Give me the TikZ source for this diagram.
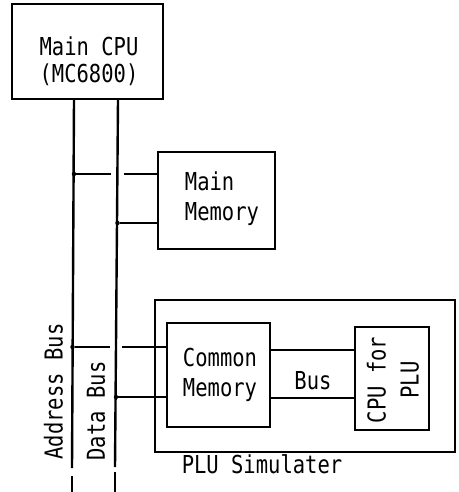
\documentclass[tikz,border=0pt]{standalone}
\usepackage{fontspec}
\setmainfont[FakeStretch=0.83]{DejaVu Sans Mono}
\begin{document}
\begin{tikzpicture}[x=1pt,y=-1pt,
  box/.style={draw,line width=1.4pt,inner sep=0pt},
  lbl/.style={font=\fontsize{24.7}{30}\selectfont,inner sep=0pt},
  busline/.style={line width=2.4pt},
  conn/.style={line width=1.6pt},
  dot/.style={circle,fill,inner sep=0pt,minimum size=4.5pt}]
\useasboundingbox (0,0) rectangle (458,492);
% boxes
\node[box,minimum width=151pt,minimum height=95pt] (cpu) at (87.5,51.5) {};
\node[lbl,align=center,font=\fontsize{24.7}{27}\selectfont] (cputxt) at (89,61) {Main CPU\\(MC6800)};
\node[box,minimum width=117pt,minimum height=97pt] (mm) at (216.5,200.5) {};
\node[lbl,align=left] (mmtxt) at (222,199) {Main\\Memory};
\node[box,minimum width=300pt,minimum height=152pt] (plu) at (305,376) {};
\node[box,minimum width=103pt,minimum height=104pt] (cm) at (218.5,375) {};
\node[lbl,align=left] (cmtxt) at (220,374.5) {Common\\Memory};
\node[box,minimum width=74pt,minimum height=103pt] (cpl) at (392,378.5) {};
\node[lbl,align=center,rotate=90,font=\fontsize{24.7}{33}\selectfont] (cpltxt) at (393,380) {CPU for\\PLU};
\node[lbl] (bustxt) at (313,381) {Bus};
\node[lbl] (plutxt) at (262,464) {PLU Simulater};
\node[lbl,rotate=90] (abtxt) at (53.5,391.5) {Address Bus};
\node[lbl,rotate=90] (dbtxt) at (96,411) {Data Bus};
% bus lines
\coordinate (ab0) at (74,99.5);
\coordinate (ab1) at (72,468);
\coordinate (ab2) at (72,476);
\coordinate (ab3) at (72,492);
\coordinate (db0) at (118,99.5);
\coordinate (db1) at (115,467);
\coordinate (db2) at (115,472);
\coordinate (db3) at (115,492);
\draw[busline] (ab0) -- (ab1);
\draw[busline] (ab2) -- (ab3);
\draw[busline] (db0) -- (db1);
\draw[busline] (db2) -- (db3);
% junctions
\node[dot] (j1) at (74,174) {};
\node[dot] (j2) at (117.5,223) {};
\node[dot] (j3) at (72.5,347) {};
\node[dot] (j4) at (116,397) {};
\coordinate (g1a) at (111,174);
\coordinate (g1b) at (124,174);
\coordinate (g3a) at (110,347);
\coordinate (g3b) at (122,347);
\draw[conn] (j1) -- (g1a);
\draw[conn] (g1b) -- (mm.west |- g1b);
\draw[conn] (j2) -- (mm.west |- j2);
\draw[conn] (j3) -- (g3a);
\draw[conn] (g3b) -- (cm.west |- g3b);
\draw[conn] (j4) -- (cm.west |- j4);
\draw[conn] (cm.east |- 0,350) -- (cpl.west |- 0,350);
\draw[conn] (cm.east |- 0,398) -- (cpl.west |- 0,398);
\end{tikzpicture}
\end{document}
